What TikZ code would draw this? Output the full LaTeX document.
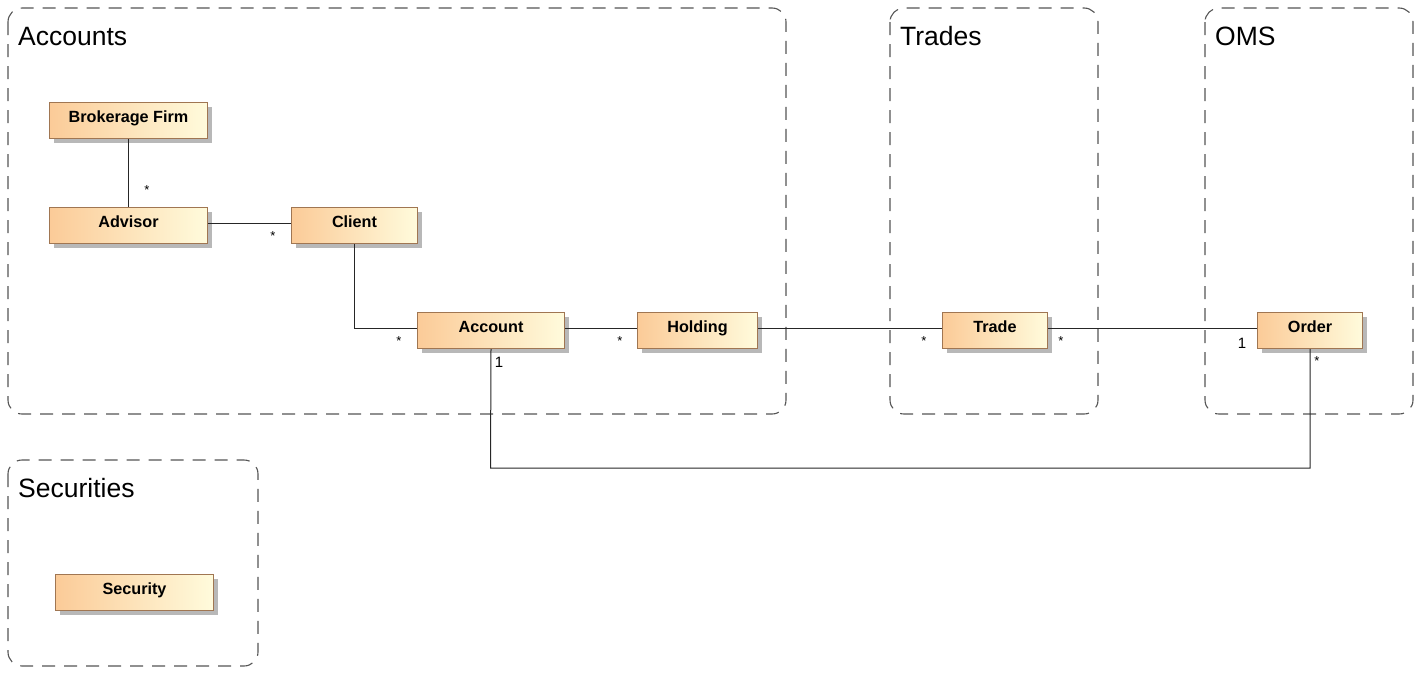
\documentclass[tikz,border=0pt]{standalone}
\usepackage{fontspec}
\setmainfont{Liberation Sans}
\usetikzlibrary{shadows}
\definecolor{boxL}{RGB}{251,203,152}
\definecolor{boxR}{RGB}{255,251,220}
\definecolor{boxB}{RGB}{160,118,82}
\definecolor{pkg}{RGB}{85,85,85}
\tikzset{
  pkgbox/.style={draw=pkg, line width=1.1pt, dash pattern=on 13pt off 9pt, rounded corners=14pt},
  pkgtitle/.style={anchor=base west, inner sep=0pt, font=\fontsize{26.5}{30}\selectfont},
  cls/.style={draw=boxB, line width=1pt, left color=boxL, right color=boxR, anchor=north west,
     inner xsep=0pt, inner ysep=0pt, text height=20pt, text depth=16pt,
     font=\fontsize{16.2}{19}\selectfont\bfseries,
     general shadow={fill=black!28, shadow xshift=4pt, shadow yshift=-4pt}},
  conn/.style={draw=black!85, line width=1pt},
  mult/.style={inner sep=0pt, font=\fontsize{13}{15}\selectfont},
  multone/.style={inner sep=0pt, font=\fontsize{15}{17}\selectfont},
}
\begin{document}
\begin{tikzpicture}[x=1pt,y=-1pt]
\path[use as bounding box] (0,0) rectangle (1426,678);
% packages
\draw[pkgbox] (8,8) rectangle (786,414);
\node[pkgtitle] (tAcc) at (18,45) {Accounts};
\draw[pkgbox] (890,8) rectangle (1098,414);
\node[pkgtitle] (tTr) at (900,45) {Trades};
\draw[pkgbox] (1205,8) rectangle (1413,414);
\node[pkgtitle] (tOms) at (1215,45) {OMS};
\draw[pkgbox] (8,460) rectangle (258,666);
\node[pkgtitle] (tSec) at (18,497) {Securities};
% classes
\node[cls, minimum width=158pt] (firm) at (49,102) {Brokerage Firm};
\node[cls, minimum width=158pt] (adv) at (49,207) {Advisor};
\node[cls, minimum width=126pt] (cli) at (291,207) {Client};
\node[cls, minimum width=147pt] (acc) at (417,312) {Account};
\node[cls, minimum width=120pt] (hold) at (637,312) {Holding};
\node[cls, minimum width=105pt] (trade) at (942,312) {Trade};
\node[cls, minimum width=105pt] (ord) at (1257,312) {Order};
\node[cls, minimum width=158pt] (sec) at (55,574) {Security};
% connectors
\draw[conn] (firm.south) -- (adv.north);
\draw[conn] ([yshift=2pt]adv.east) -- ([yshift=2pt]cli.west);
\draw[conn] (cli.south) |- ([yshift=2pt]acc.west);
\draw[conn] ([yshift=2pt]acc.east) -- ([yshift=2pt]hold.west);
\draw[conn] ([yshift=2pt]hold.east) -- ([yshift=2pt]trade.west);
\draw[conn] ([yshift=2pt]trade.east) -- ([yshift=2pt]ord.west);
\coordinate (c1) at (490.5,468);
\draw[conn] (acc.south) -- (c1) -| (ord.south);
% multiplicities
\node[mult] (m1) at (147,190) {*};
\node[mult] (m2) at (273,236) {*};
\node[mult] (m3) at (399,341) {*};
\node[mult] (m4) at (620,341) {*};
\node[mult] (m5) at (924,341) {*};
\node[mult] (m6) at (1061,341) {*};
\node[multone] (m7) at (1242,343) {1};
\node[multone] (m8) at (499,362) {1};
\node[mult] (m9) at (1317,361) {*};
\end{tikzpicture}
\end{document}
